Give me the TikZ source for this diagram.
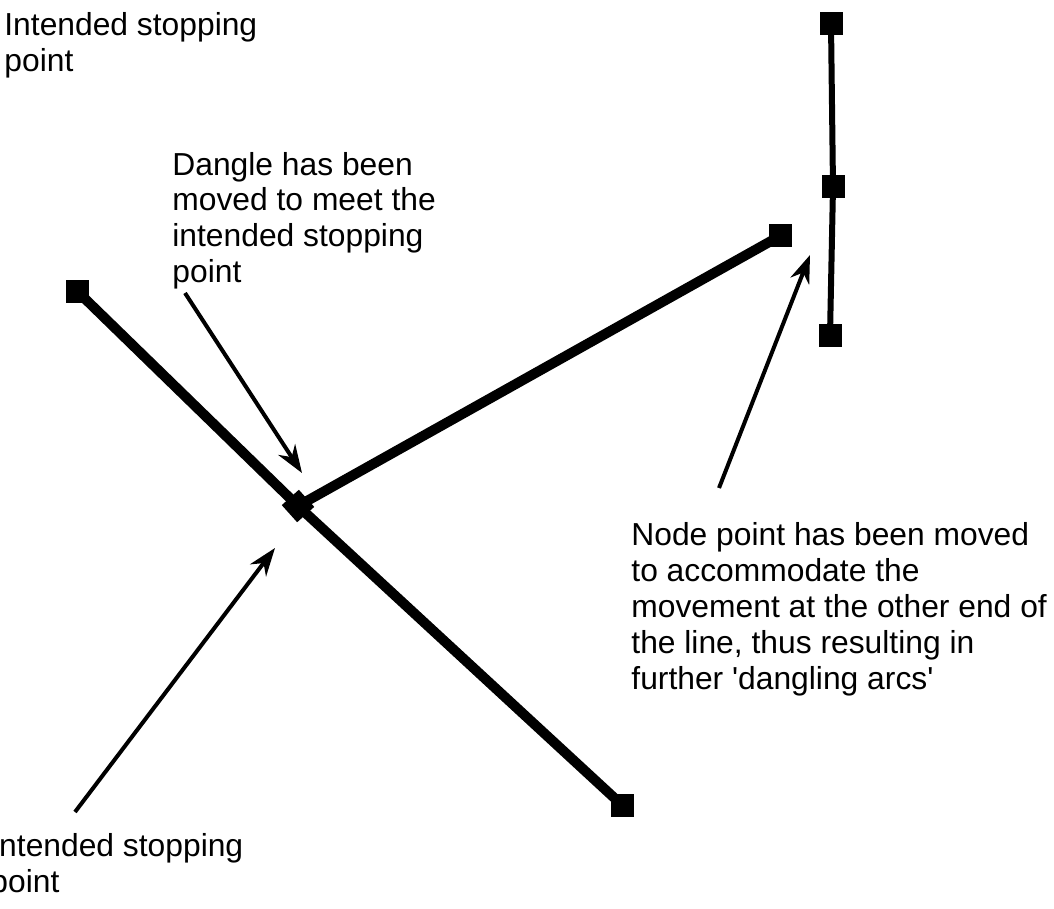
\documentclass[tikz,border=0pt]{standalone}
\usepackage{fontspec}
\setmainfont{Liberation Sans}
\usetikzlibrary{arrows.meta, positioning}
\tikzset{
    vertex/.style={rectangle, fill=black, draw=none, inner sep=0pt, minimum size=11.5pt},
    arc/.style={draw=black, line width=5pt},
    thinarc/.style={draw=black, line width=3pt},
    note/.style={align=left, inner sep=0pt, anchor=base west, font=\fontsize{15.9}{18}\selectfont},
    pointer/.style={draw=black, line width=2pt, -{Stealth[length=14pt, width=10pt]}}
}

\begin{document}
\begin{tikzpicture}[x=0.5pt, y=-0.5pt]
    \useasboundingbox (0,0) rectangle (1054,909);

    % Vertices of the arcs
    \node[vertex] (dangle) at (77,291) {};
    \node[vertex, rotate=42] (junct) at (298,506) {};
    \node[vertex] (lowend) at (622,805) {};
    \node[vertex] (moved) at (780,236) {};
    \node[vertex] (vtop) at (831,24) {};
    \node[vertex] (vmid) at (833,187) {};
    \node[vertex] (vbot) at (830,335) {};

    % Arcs
    \path (dangle.center) edge[arc] (junct.center);
    \path (junct.center) edge[arc] (lowend.center);
    \path (junct.center) edge[arc] (moved.center);
    \path (vtop.center) edge[thinarc] (vmid.center);
    \path (vmid.center) edge[thinarc] (vbot.center);

    % Notes (anchored on the baseline of their last line)
    \node[note] (stoptop) at (4,72) {Intended stopping\\point};
    \node[note] (dangnote) at (172,283) {Dangle has been\\moved to meet the\\intended stopping\\point};
    \node[note] (nodenote) at (631,689) {Node point has been moved\\to accommodate the\\movement at the other end of\\the line, thus resulting in\\further \textquotesingle dangling arcs\textquotesingle};
    \node[note] (stopbot) at (-10,892) {Intended stopping\\point};

    % Pointers
    \coordinate (a1) at (185,293);
    \coordinate (b1) at (302,473);
    \coordinate (a2) at (75,812);
    \coordinate (b2) at (275,548);
    \coordinate (a3) at (719,488);
    \coordinate (b3) at (810,255);
    \path (a1) edge[pointer] (b1);
    \path (a2) edge[pointer] (b2);
    \path (a3) edge[pointer] (b3);

\end{tikzpicture}
\end{document}
